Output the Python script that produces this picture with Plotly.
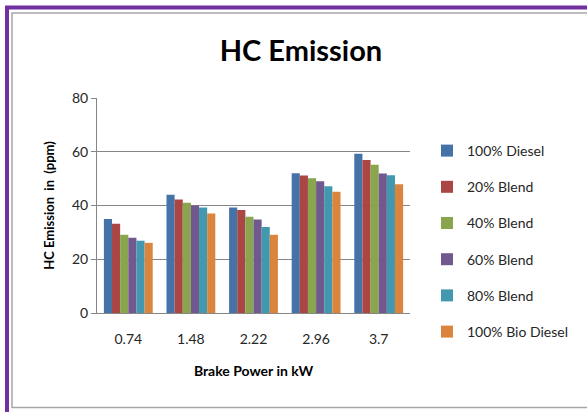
import plotly.graph_objects as go

categories = ["0.74", "1.48", "2.22", "2.96", "3.7"]
series_names = ["100% Diesel", "20% Blend", "40% Blend", "60% Blend", "80% Blend", "100% Bio Diesel"]
diesel = [35, 44, 39.3, 52, 59.3]
blend20 = [33.2, 42.2, 38.3, 51.2, 56.9]
blend40 = [29.1, 41, 35.8, 50.1, 55.2]
blend60 = [28, 40, 34.8, 49, 51.9]
blend80 = [26.9, 39.3, 32, 47.2, 51.3]
bio100 = [26.1, 37, 29.1, 45.1, 47.9]
y_ticks = [0, 20, 40, 60, 80]

colors = ["#4572A7", "#AA4643", "#89A54E", "#71588F", "#4198AF", "#DB843D"]
all_series = [diesel, blend20, blend40, blend60, blend80, bio100]

fig = go.Figure()
for name, vals, c in zip(series_names, all_series, colors):
    fig.add_trace(go.Bar(x=categories, y=vals, name=name, legendgroup=name,
                         marker=dict(color=c, line=dict(width=0))))

W, H = 587, 412
L, R, T, B = 97, 410, 98, 313
pw, ph = R - L, B - T

def px_x(px):
    return (px - L) / pw

def px_y(py):
    return (B - py) / ph

font_fam = "Lato, 'Open Sans', sans-serif"

fig.update_layout(
    width=W, height=H,
    margin=dict(l=L, r=W - R, t=T, b=H - B),
    paper_bgcolor="white", plot_bgcolor="white",
    barmode="group", bargap=0.22, bargroupgap=0,
    font=dict(family=font_fam, size=14, color="#262626"),
    title=dict(text="<b>HC Emission</b>", x=px_x(301), xref="paper", xanchor="center",
               y=1 - 51 / H, yanchor="middle", font=dict(size=29, color="#000000", family=font_fam)),
    showlegend=True,
    legend=dict(x=px_x(427), xanchor="left", y=px_y(135), yanchor="top",
                font=dict(size=14, color="#262626"), itemwidth=30, tracegroupgap=15,
                bgcolor="rgba(0,0,0,0)"),
    xaxis=dict(showgrid=False, showline=True, linecolor="#868686", linewidth=1,
               ticks="", tickfont=dict(size=14), ticklabelstandoff=13,
               title=dict(text="<b>Brake Power in kW</b>", font=dict(size=14, color="#000000"), standoff=20)),
    yaxis=dict(range=[0, 80], tickvals=y_ticks, showgrid=True, gridcolor="#868686", gridwidth=1,
               showline=True, linecolor="#868686", linewidth=1, ticks="outside", ticklen=5,
               tickcolor="#868686", zeroline=False, tickfont=dict(size=14),
               title=dict(text="<b>HC Emission  in  (ppm)</b>", font=dict(size=13, color="#000000"), standoff=14)),
    shapes=[
        dict(type="line", xref="paper", yref="paper", x0=px_x(7), x1=px_x(7), y0=px_y(7), y1=px_y(412),
             line=dict(color="#7030A0", width=4)),
        dict(type="line", xref="paper", yref="paper", x0=px_x(5), x1=px_x(590), y0=px_y(7.5), y1=px_y(7.5),
             line=dict(color="#7030A0", width=4)),
        dict(type="rect", xref="paper", yref="paper", x0=px_x(12), x1=px_x(600), y0=px_y(13), y1=px_y(407.5),
             line=dict(color="#A6A6A6", width=1.5), fillcolor="rgba(0,0,0,0)"),
    ],
)

fig.write_html("out.html", config={"displayModeBar": False},
               post_script="document.body.style.margin='0';")
